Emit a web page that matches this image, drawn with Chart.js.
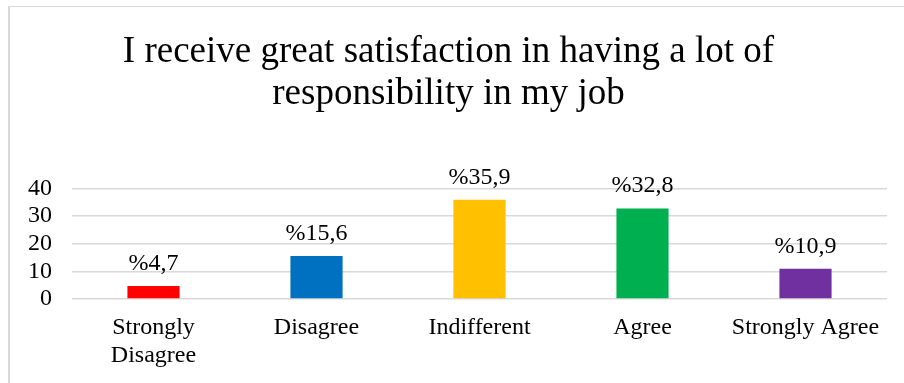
<!DOCTYPE html>
<html>
<head>
<meta charset="utf-8">
<script src="https://cdn.jsdelivr.net/npm/chart.js@4"></script>
<style>
  html, body { margin: 0; padding: 0; background: #fff; overflow: hidden; }
  #frame {
    position: absolute; left: 8px; top: 6px;
    width: 960px; height: 400px;
    border-top: 1px solid #d9d9d9; border-left: 2px solid #d9d9d9;
  }
  #chart { display: block; }
</style>
</head>
<body>
<div id="frame"><canvas id="chart" width="904" height="380"></canvas></div>
<script>
// Survey answers for one statement, percent of respondents
const categories = [['Strongly', 'Disagree'], 'Disagree', 'Indifferent', 'Agree', 'Strongly Agree'];
const percentages = [4.7, 15.6, 35.9, 32.8, 10.9];
const barColors = ['#FF0000', '#0070C0', '#FFC000', '#00B050', '#7030A0'];
const yTicks = [0, 10, 20, 30, 40];
const titleLines = ['I receive great satisfaction in having a lot of', 'responsibility in my job'];

const SERIF = "'Liberation Serif', 'Times New Roman', serif";

// Value labels written as "%35,9" above each bar
const valueLabels = {
  id: 'valueLabels',
  afterDatasetsDraw(chart) {
    const ctx = chart.ctx;
    const meta = chart.getDatasetMeta(0);
    const data = chart.data.datasets[0].data;
    ctx.save();
    ctx.font = '24px ' + SERIF;
    ctx.fillStyle = '#000';
    ctx.textAlign = 'center';
    ctx.textBaseline = 'alphabetic';
    meta.data.forEach((bar, i) => {
      const txt = '%' + data[i].toFixed(1).replace('.', ',');
      ctx.fillText(txt, bar.x, bar.y - 16);
    });
    ctx.restore();
  }
};

new Chart(document.getElementById('chart'), {
  type: 'bar',
  data: {
    labels: categories,
    datasets: [{
      data: percentages,
      backgroundColor: barColors,
      borderWidth: 0,
      barPercentage: 0.32,
      categoryPercentage: 1
    }]
  },
  options: {
    responsive: false,
    animation: false,
    layout: { padding: { left: 0, right: 27, top: 0, bottom: 10 } },
    plugins: {
      legend: { display: false },
      tooltip: { enabled: false },
      title: {
        display: true,
        text: titleLines,
        color: '#000',
        font: { family: SERIF, size: 37, weight: 'normal', lineHeight: 1.135 },
        padding: { top: 24, bottom: 73.5 }
      }
    },
    scales: {
      x: {
        grid: { display: false },
        border: { display: false },
        ticks: {
          color: '#000',
          font: { family: SERIF, size: 24, lineHeight: 1.167 },
          padding: 7,
          maxRotation: 0,
          autoSkip: false
        }
      },
      y: {
        min: 0,
        max: 40,
        afterBuildTicks(scale) { scale.ticks = yTicks.map(v => ({ value: v })); },
        afterFit(scale) { scale.width = 62; },
        grid: { color: '#d9d9d9', lineWidth: 1.5, drawTicks: false },
        border: { display: false },
        ticks: {
          color: '#000',
          font: { family: SERIF, size: 24 },
          padding: 20,
          autoSkip: false
        }
      }
    }
  },
  plugins: [valueLabels]
});
</script>
</body>
</html>
